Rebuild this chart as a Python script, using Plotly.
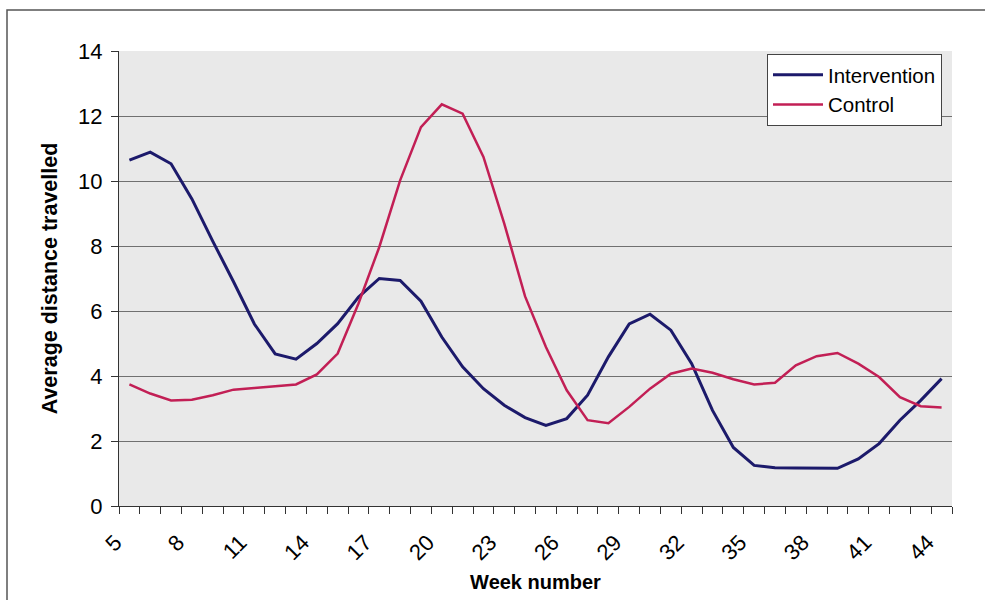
import plotly.graph_objects as go

weeks = list(range(5, 45))
intervention = [10.64, 10.89, 10.53, 9.45, 8.15, 6.9, 5.6, 4.68, 4.52,
                5.0, 5.61, 6.43, 7.0, 6.94, 6.3, 5.2, 4.28, 3.61, 3.1, 2.72,
                2.48, 2.69, 3.41, 4.59, 5.6, 5.9, 5.41, 4.38, 2.94, 1.8,
                1.25, 1.18, 1.17, 1.17, 1.16, 1.45, 1.92, 2.64, 3.25, 3.92]
control = [3.74, 3.46, 3.25, 3.27, 3.41, 3.58, 3.63, 3.68, 3.74,
           4.05, 4.69, 6.23, 7.97, 10.02, 11.66, 12.36, 12.07, 10.74, 8.69, 6.45,
           4.89, 3.56, 2.64, 2.55, 3.05, 3.61, 4.07, 4.23, 4.1, 3.9,
           3.74, 3.79, 4.33, 4.61, 4.71, 4.38, 3.97, 3.35, 3.07, 3.03]
x_labels = list(range(5, 45, 3))
y_ticks = list(range(0, 15, 2))

FONT = "Liberation Sans, Arial, sans-serif"

fig = go.Figure()
fig.add_trace(go.Scatter(x=weeks, y=intervention, mode="lines", name="Intervention",
                         line=dict(color="#1c1a6b", width=3)))
fig.add_trace(go.Scatter(x=weeks, y=control, mode="lines", name="Control",
                         line=dict(color="#c21f55", width=2.5)))

L, R, T, B = 119, 952, 51, 506
W, H = 985, 600

fig.update_layout(
    width=W, height=H,
    margin=dict(l=L, r=W - R, t=T, b=H - B, pad=0),
    paper_bgcolor="white",
    plot_bgcolor="#e9e9e9",
    font=dict(family=FONT, size=20, color="black"),
    showlegend=True,
    legend=dict(x=(767 - L) / (R - L), y=(B - 54) / (B - T), xanchor="left", yanchor="top",
                bgcolor="white", bordercolor="#444", borderwidth=1,
                font=dict(family=FONT, size=20.5, color="black"),
                itemwidth=50, tracegroupgap=0),
    xaxis=dict(
        range=[4.5, 44.5],
        tickmode="array", tickvals=x_labels, ticktext=[str(v) for v in x_labels],
        tickangle=-45, ticks="", showgrid=False, zeroline=False,
        showline=True, linecolor="#333", linewidth=1,
        tickfont=dict(family=FONT, size=22),
        ticklabelstandoff=14, ticklabelshift=-14,
        minor=dict(tickmode="linear", tick0=4.5, dtick=1, ticks="outside",
                   ticklen=7, tickcolor="#333", tickwidth=1, showgrid=False),
        title=dict(text="<b>Week number</b>", font=dict(family=FONT, size=20), standoff=10),
    ),
    yaxis=dict(
        range=[0, 14], tickvals=y_ticks, ticks="outside", ticklen=7,
        tickcolor="#333", tickwidth=1,
        showgrid=True, gridcolor="#707070", gridwidth=1, zeroline=False,
        showline=True, linecolor="#333", linewidth=1,
        tickfont=dict(family=FONT, size=22),
        ticklabelstandoff=4,
        title=dict(text="<b>Average distance travelled</b>", font=dict(family=FONT, size=21.5), standoff=14),
    ),
    shapes=[dict(type="rect", xref="paper", yref="paper",
                 x0=(7 - L) / (R - L), x1=(990 - L) / (R - L),
                 y0=(B - 605) / (B - T), y1=(B - 10) / (B - T),
                 line=dict(color="#555", width=1.5), fillcolor="rgba(0,0,0,0)", layer="below")],
)

fig.write_html("out.html")
